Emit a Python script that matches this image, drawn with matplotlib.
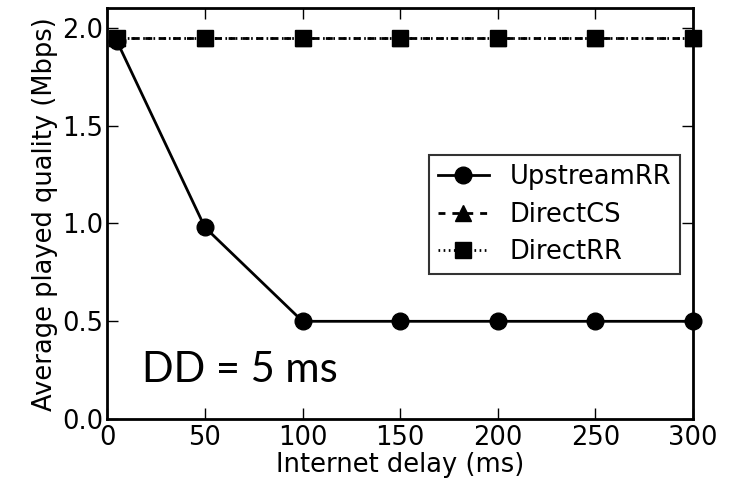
import matplotlib
matplotlib.use("Agg")
import matplotlib.pyplot as plt

delay = [5, 50, 100, 150, 200, 250, 300]
upstream_rr = [1.93, 0.98, 0.5, 0.5, 0.5, 0.5, 0.5]
direct_cs = [1.95, 1.95, 1.95, 1.95, 1.95, 1.95, 1.95]
direct_rr = [1.95, 1.95, 1.95, 1.95, 1.95, 1.95, 1.95]

plt.rcParams["font.family"] = "DejaVu Sans"
plt.rcParams["lines.scale_dashes"] = False
fig = plt.figure(figsize=(7.35, 4.84), dpi=100)
ax = fig.add_axes([0.146, 0.134, 0.797, 0.849])

ax.plot(delay, upstream_rr, "-o", color="black", lw=2, ms=12, label="UpstreamRR", clip_on=False, zorder=3)
ax.plot(delay, direct_cs, "^", color="black", lw=2, ms=12, ls=(0, (5, 5)), label="DirectCS",
        clip_on=False, zorder=3)
ax.plot(delay, direct_rr, "s", color="black", lw=2, ms=12, ls=(0, (1.2, 2.5)), label="DirectRR",
        clip_on=False, zorder=3)

ax.set_xlim(0, 300)
ax.set_ylim(0, 2.1)
ax.set_xticks([0, 50, 100, 150, 200, 250, 300])
ax.set_yticks([0.0, 0.5, 1.0, 1.5, 2.0])
ax.set_yticklabels(["0.0", "0.5", "1.0", "1.5", "2.0"])
ax.tick_params(direction="in", length=8, width=1, labelsize=18.5, top=True, right=True, pad=3)
ax.tick_params(axis="x", pad=4)
for s in ax.spines.values():
    s.set_linewidth(2)

ax.set_xlabel("Internet delay (ms)", fontsize=18.5, labelpad=1)
ax.set_ylabel("Average played quality (Mbps)", fontsize=18.5, labelpad=3)

ax.text(0.06, 0.12, "DD = 5 ms", transform=ax.transAxes, fontsize=30, family="Lato",
        ha="left", va="center")

leg = ax.legend(loc="center right", bbox_to_anchor=(0.978, 0.497), fontsize=18.5, frameon=True,
                fancybox=False, edgecolor="black", handlelength=2.0, borderpad=0.35,
                labelspacing=0.45, handletextpad=0.8, borderaxespad=0)
leg.get_frame().set_linewidth(1.5)

plt.savefig("out.png", dpi=100)
